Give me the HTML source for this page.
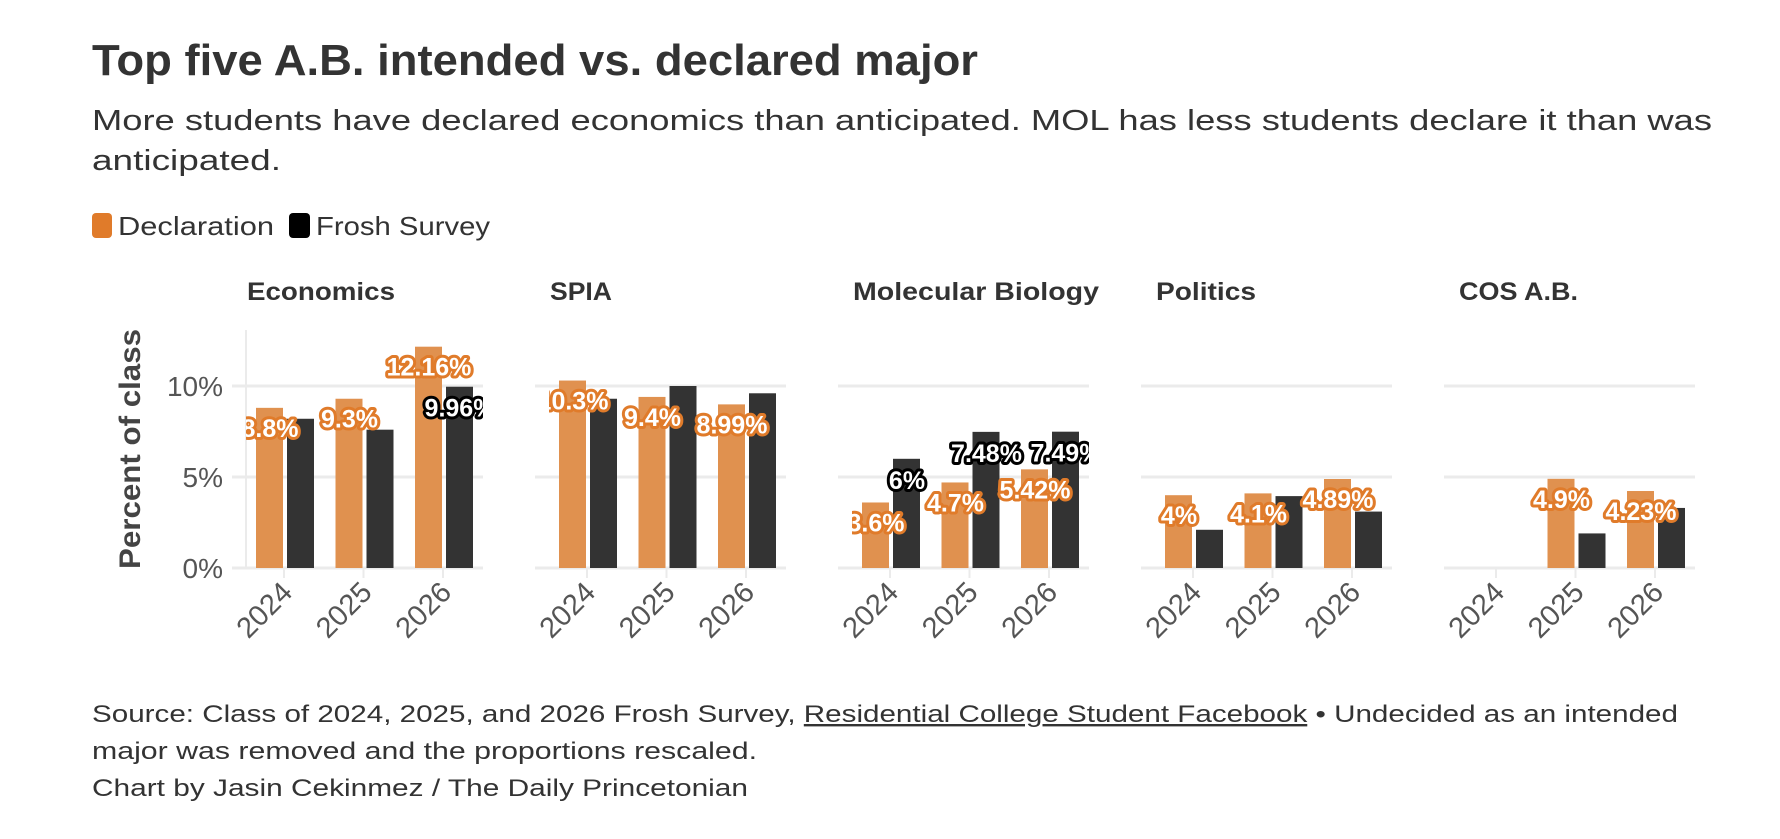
<!DOCTYPE html>
<html><head><meta charset="utf-8">
<style>
html,body{margin:0;padding:0;background:#fff;}
svg{display:block;font-family:"Liberation Sans",sans-serif;}
.lbl{font-weight:bold;font-size:25px;fill:#fff;stroke-width:6px;paint-order:stroke;stroke-linejoin:round;}
</style></head>
<body>
<svg id="chart" width="1780" height="839" viewBox="0 0 1780 839">
<text x="92" y="75" font-size="44" font-weight="bold" fill="#333" textLength="886" lengthAdjust="spacingAndGlyphs">Top five A.B. intended vs. declared major</text>
<text x="92" y="130" font-size="29" fill="#333" textLength="1620" lengthAdjust="spacingAndGlyphs">More students have declared economics than anticipated. MOL has less students declare it than was</text>
<text x="92" y="170" font-size="29" fill="#333" textLength="189" lengthAdjust="spacingAndGlyphs">anticipated.</text>
<g>
<rect x="92" y="213" width="20" height="25" rx="4" fill="#e07b2a"/>
<text x="118" y="235" font-size="26" fill="#333" textLength="156" lengthAdjust="spacingAndGlyphs">Declaration</text>
<rect x="289" y="213" width="21" height="25" rx="4" fill="#000"/>
<text x="316" y="235" font-size="26" fill="#333" textLength="174" lengthAdjust="spacingAndGlyphs">Frosh Survey</text>
</g>
<text transform="translate(140,449) rotate(-90)" text-anchor="middle" font-size="30" font-weight="bold" fill="#444" textLength="240" lengthAdjust="spacingAndGlyphs">Percent of class</text>
<g id="panels"></g>
<g font-size="24" fill="#333">
<text x="92" y="722" textLength="1586" lengthAdjust="spacingAndGlyphs">Source: Class of 2024, 2025, and 2026 Frosh Survey, <tspan text-decoration="underline">Residential College Student Facebook</tspan> • Undecided as an intended</text>
<text x="92" y="759" textLength="665" lengthAdjust="spacingAndGlyphs">major was removed and the proportions rescaled.</text>
<text x="92" y="796" textLength="656" lengthAdjust="spacingAndGlyphs">Chart by Jasin Cekinmez / The Daily Princetonian</text>
</g>
</svg>
<script>
const panels = ["Economics","SPIA","Molecular Biology","Politics","COS A.B."];
const titleWidths = [148,62,246,100,119];
const years = ["2024","2025","2026"];
const declaration = [[8.8,9.3,12.16],[10.3,9.4,8.99],[3.6,4.7,5.42],[4,4.1,4.89],[null,4.9,4.23]];
const frosh = [[8.2,7.6,9.96],[9.3,10.0,9.6],[6,7.48,7.49],[2.1,3.95,3.1],[null,1.9,3.3]];
const declLabels = [["8.8%","9.3%","12.16%"],["10.3%","9.4%","8.99%"],["3.6%","4.7%","5.42%"],["4%","4.1%","4.89%"],[null,"4.9%","4.23%"]];
const froshLabels = [[null,null,"9.96%"],[null,null,null],["6%","7.48%","7.49%"],[null,null,null],[null,null,null]];
const yTicks = [0,5,10];
const yTickLabels = ["0%","5%","10%"];

const NS="http://www.w3.org/2000/svg";
const root=document.getElementById('panels');
const y0=568, pxPer=18.2;
function y(v){return y0 - v*pxPer;}
function center(p,j){return 284 + 303*p + 79.5*j;}
function mk(tag,attrs,parent){const e=document.createElementNS(NS,tag);for(const k in attrs)e.setAttribute(k,attrs[k]);parent.appendChild(e);return e;}
const defs=mk('defs',{},document.getElementById('chart'));

panels.forEach((name,p)=>{
  const g=mk('g',{},root);
  
  
  const gx0=center(p,0)-52, gx1=center(p,2)+40;
  const t=mk('text',{x:247+303*p,y:300,'font-size':25,'font-weight':'bold',fill:'#333',textLength:titleWidths[p],lengthAdjust:'spacingAndGlyphs'},g);
  t.textContent=name;
  
  
  yTicks.forEach((v,i)=>{
    const l=mk('line',{x1:gx0,x2:gx1,y1:y(v),y2:y(v),stroke:'#ebebeb','stroke-width':3},g);
    
    
    if(p===0){
      const tl=mk('text',{x:223,y:y(v)+10,'text-anchor':'end','font-size':28,fill:'#555'},g);
      tl.textContent=yTickLabels[i];
      
      
    }
  });
  if(p===0){
    const ax=mk('line',{x1:246,x2:246,y1:330,y2:y0,stroke:'#ebebeb','stroke-width':2},g);
    
    
  }
  const cp=mk('clipPath',{id:'clip'+p},defs);
  mk('rect',{x:center(p,0)-38,y:280,width:(center(p,2)+40)-(center(p,0)-38),height:300},cp);
  years.forEach((yr,j)=>{
    const c=center(p,j);
    const tk=mk('line',{x1:c,x2:c,y1:y0,y2:y0+10,stroke:'#ebebeb','stroke-width':2},g);
    
    
    const xl=mk('text',{transform:`translate(${c+10},${y0+26}) rotate(-45)`,'text-anchor':'end','font-size':29,fill:'#555'},g);
    xl.textContent=yr;
    
    
    const d=declaration[p][j], f=frosh[p][j];
    if(d!=null){
      const b=mk('rect',{x:c-28,y:y(d),width:27,height:d*pxPer,fill:'#e0914f'},g);
      
      
    }
    if(f!=null){
      const b=mk('rect',{x:c+3,y:y(f),width:27,height:f*pxPer,fill:'#333'},g);
      
      
    }
  });
  const lg=mk('g',{'clip-path':`url(#clip${p})`},g);
  years.forEach((yr,j)=>{
    const c=center(p,j);
    if(declLabels[p][j]){
      const l=mk('text',{class:'lbl',x:c-14,y:y(declaration[p][j])+29,'text-anchor':'middle',stroke:'#e07b2a'},lg);
      l.textContent=declLabels[p][j];
      
      
    }
    if(froshLabels[p][j]){
      const l=mk('text',{class:'lbl',x:c+17,y:y(frosh[p][j])+30,'text-anchor':'middle',stroke:'#000'},lg);
      l.textContent=froshLabels[p][j];
      
      
    }
  });
});
</script>
</body></html>
